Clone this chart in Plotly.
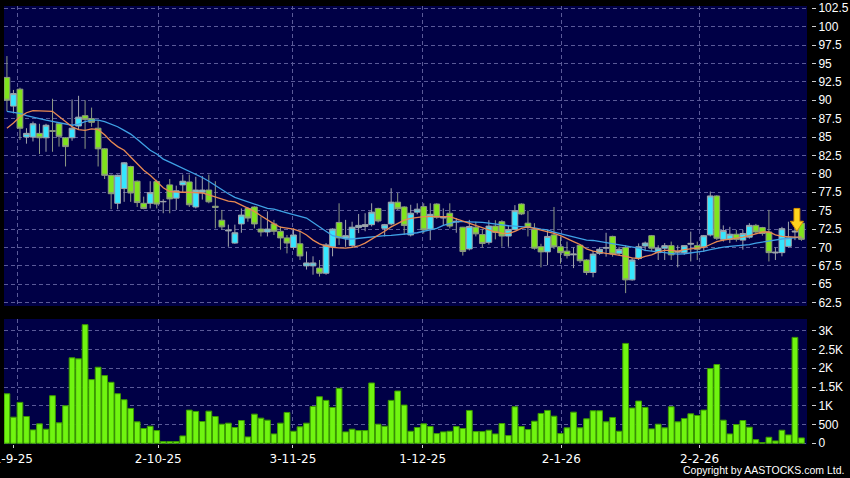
import plotly.graph_objects as go

# ---------------- data ----------------
date_labels = ["1-9-25", "2-10-25", "3-11-25", "1-12-25", "2-1-26", "2-2-26"]
date_label_index = [0.98, 23.24, 43.92, 63.83, 85.11, 106.36]
date_grid_index = [1.59, 23.24, 43.92, 63.83, 85.11, 106.36]

opens = [93.1, 89.2, 91.5, 85.0, 85.0, 85.5, 84.9, 85.85, 86.8, 84.9,
         84.9, 86.5, 87.9, 87.5, 86.2, 83.4, 79.8, 76.0, 78.0, 81.0,
         79.0, 76.0, 76.0, 78.95, 76.2, 78.5, 76.7, 78.5, 78.9, 75.5,
         77.5, 77.8, 75.6, 73.7, 72.25, 70.6, 73.2, 75.3, 75.5, 72.5,
         72.1, 73.2, 72.2, 71.3, 70.0, 70.5, 67.5, 67.5, 67.2, 66.5,
         70.1, 73.4, 71.25, 70.25, 72.7, 72.85, 73.1, 75.3, 72.6, 73.2,
         76.15, 75.5, 71.7, 74.8, 75.55, 72.5, 75.9, 74.0, 74.65, 73.45,
         72.75, 69.8, 72.75, 71.75, 70.7, 72.9, 73.5, 71.55, 72.45, 75.9,
         73.3, 72.45, 70.1, 69.4, 71.7, 70.1, 69.5, 69.0, 70.3, 68.3,
         66.6, 69.2, 69.9, 71.5, 69.2, 70.0, 65.6, 68.5, 70.2, 71.6,
         69.3, 69.9, 70.25, 69.35, 69.3, 70.45, 70.25, 70.1, 71.7, 77.0,
         71.1, 71.1, 71.8, 71.0, 71.4, 73.0, 72.7, 72.1, 69.25, 69.3,
         70.15, 72.1, 73.3]
highs = [96.0, 91.4, 91.7, 86.2, 87.1, 86.8, 86.8, 90.2, 86.9, 85.0,
         90.1, 90.6, 90.0, 89.0, 87.3, 83.5, 79.9, 79.9, 81.6, 81.1,
         79.1, 76.9, 79.0, 79.2, 76.55, 79.3, 78.4, 79.9, 79.9, 79.6,
         79.7, 79.9, 79.0, 75.1, 73.1, 73.1, 75.3, 75.5, 75.6, 74.2,
         74.9, 73.75, 72.85, 71.7, 72.6, 72.3, 69.45, 68.8, 68.3, 70.6,
         72.6, 76.0, 73.75, 73.5, 74.55, 74.65, 76.0, 75.4, 73.2, 78.05,
         77.4, 75.6, 75.8, 76.0, 76.0, 76.0, 76.0, 75.3, 76.0, 74.0,
         72.8, 73.75, 73.5, 72.5, 73.7, 73.7, 73.7, 73.05, 75.75, 76.0,
         75.0, 73.3, 70.5, 72.4, 75.5, 71.5, 70.8, 70.0, 70.4, 68.4,
         69.55, 70.0, 72.0, 71.6, 70.1, 70.3, 68.6, 70.55, 70.8, 71.7,
         70.3, 70.6, 70.8, 70.3, 70.3, 72.15, 70.8, 71.7, 77.6, 77.1,
         73.0, 72.8, 72.4, 72.4, 73.3, 73.2, 72.8, 75.1, 70.0, 72.8,
         73.5, 73.2, 73.5]
lows = [88.5, 88.2, 84.6, 84.1, 84.4, 82.7, 83.0, 83.0, 83.7, 81.0,
        84.5, 86.0, 83.4, 86.4, 81.0, 79.3, 75.2, 75.2, 76.2, 76.2,
        75.5, 75.2, 75.3, 75.3, 74.65, 74.65, 75.1, 77.4, 75.5, 75.3,
        76.5, 76.0, 72.6, 72.4, 70.1, 70.5, 72.0, 73.5, 72.6, 71.5,
        71.5, 71.7, 69.7, 69.2, 69.7, 68.3, 67.0, 66.3, 66.05, 66.3,
        68.8, 70.35, 70.1, 70.0, 71.95, 72.2, 72.85, 73.4, 71.5, 73.0,
        75.1, 71.7, 71.5, 74.5, 71.9, 71.0, 73.9, 73.0, 72.6, 72.0,
        68.9, 69.6, 71.5, 70.0, 70.4, 71.1, 70.1, 70.1, 72.3, 74.4,
        71.5, 69.7, 67.3, 67.6, 69.8, 67.8, 68.5, 67.2, 67.9, 66.25,
        65.95, 69.0, 68.75, 68.75, 68.9, 63.8, 65.5, 68.3, 69.5, 69.5,
        68.3, 68.3, 68.3, 67.3, 69.0, 68.1, 68.3, 69.4, 71.5, 71.0,
        70.8, 70.6, 70.8, 69.7, 71.2, 71.9, 71.6, 68.1, 68.3, 68.8,
        70.0, 71.0, 70.9]
closes = [90.0, 90.9, 86.2, 85.5, 86.8, 84.9, 86.6, 85.8, 85.1, 83.7,
          86.2, 87.7, 87.4, 87.0, 83.4, 79.8, 77.3, 79.8, 81.5, 77.4,
          76.1, 75.3, 77.45, 75.9, 76.25, 76.6, 77.7, 79.0, 75.8, 77.8,
          77.8, 76.2, 75.45, 72.8, 72.35, 72.0, 74.4, 74.0, 73.2, 72.1,
          72.5, 72.2, 71.3, 70.6, 71.7, 68.85, 67.9, 67.9, 66.5, 70.35,
          72.5, 71.3, 71.6, 72.75, 73.0, 73.1, 74.8, 73.6, 73.1, 76.15,
          75.25, 73.0, 74.65, 75.2, 72.4, 74.5, 74.1, 74.1, 72.9, 73.55,
          69.45, 72.85, 71.85, 70.55, 72.9, 72.05, 71.55, 72.45, 75.0, 74.55,
          72.75, 69.9, 69.4, 71.5, 70.1, 69.3, 68.9, 69.1, 68.2, 66.6,
          69.1, 69.75, 70.0, 69.1, 69.75, 65.6, 68.3, 70.1, 70.6, 69.9,
          69.9, 70.25, 69.0, 69.45, 70.25, 70.55, 69.75, 71.6, 77.0, 71.25,
          72.3, 71.8, 71.1, 71.9, 73.0, 72.1, 71.9, 69.3, 69.35, 72.55,
          71.3, 72.2, 71.1]
volume = [1320, 697, 1090, 714, 357, 518, 375, 1268, 545, 1000,
          2277, 2250, 3161, 1697, 2027, 1804, 1625, 1321, 1161, 929,
          571, 393, 455, 339, 45, 45, 45, 196, 884, 848,
          580, 857, 714, 509, 536, 420, 607, 170, 777, 670,
          616, 250, 536, 822, 321, 438, 536, 982, 1241, 1143,
          955, 1465, 304, 375, 339, 339, 1607, 509, 455, 1143,
          1393, 1018, 321, 420, 518, 446, 259, 304, 321, 446,
          393, 875, 312, 312, 348, 250, 527, 205, 973, 446,
          366, 589, 795, 875, 723, 259, 411, 830, 411, 652,
          866, 866, 571, 688, 321, 2661, 938, 1125, 955, 384,
          509, 411, 973, 571, 661, 786, 741, 884, 1991, 2099,
          616, 250, 500, 607, 429, 98, 18, 161, 63, 348,
          223, 2822, 143]
ma_short = [86.2, 86.9, 87.75, 88.3, 88.6, 88.6, 88.5, 88.5, 87.8, 87.1,
            86.4, 86.0, 85.9, 86.1, 86.0, 85.3, 84.4, 83.7, 83.2, 82.3,
            81.4, 80.5, 79.8, 78.9, 78.1, 77.6, 77.5, 77.5, 77.5, 77.4,
            77.4, 77.15, 76.9, 76.55, 76.3, 76.2, 75.8, 75.3, 74.9, 74.3,
            73.7, 73.2, 72.75, 72.6, 72.5, 72.2, 71.7, 71.0, 70.5, 70.2,
            70.0, 69.95, 69.9, 70.0, 70.2, 70.6, 71.1, 71.6, 72.2, 72.8,
            73.3, 73.7, 73.95, 74.1, 74.2, 74.2, 74.2, 74.3, 74.2, 73.9,
            73.6, 73.3, 73.0, 72.8, 72.4, 72.1, 71.95, 71.9, 72.2, 72.6,
            72.8, 72.6, 72.4, 72.2, 71.9, 71.6, 71.25, 70.8, 70.4, 69.8,
            69.5, 69.3, 69.2, 69.1, 69.0, 68.8, 68.6, 68.5, 68.8, 69.0,
            69.4, 69.6, 69.6, 69.5, 69.7, 69.8, 69.9, 70.0, 70.4, 70.8,
            71.0, 71.1, 71.25, 71.4, 71.6, 71.9, 72.1, 72.1, 71.7, 71.5,
            71.4, 71.4, 71.4]
ma_long = [88.5, 88.4, 88.2, 87.9, 87.75, 87.5, 87.3, 87.15, 87.0, 86.75,
           86.6, 86.75, 87.1, 87.3, 87.3, 87.1, 86.75, 86.4, 85.9, 85.4,
           84.7, 83.9, 83.2, 82.7, 82.0, 81.6, 81.2, 80.7, 80.3, 80.0,
           79.5, 79.0, 78.4, 77.8, 77.3, 76.8, 76.5, 76.3, 75.9, 75.6,
           75.3, 75.2, 74.9, 74.7, 74.45, 74.2, 74.0, 73.4, 72.8, 72.1,
           71.6, 71.4, 71.15, 71.15, 71.25, 71.4, 71.45, 71.5, 71.6, 71.65,
           71.7, 71.8, 71.9, 72.0, 72.2, 72.4, 72.6, 73.0, 73.3, 73.5,
           73.5, 73.5, 73.45, 73.4, 73.3, 73.15, 73.05, 72.95, 72.9, 72.85,
           72.8, 72.65, 72.5, 72.4, 72.1, 71.9, 71.7, 71.4, 71.2, 71.0,
           70.95, 70.8, 70.65, 70.5, 70.4, 70.25, 70.1, 69.9, 69.6, 69.5,
           69.4, 69.3, 69.2, 69.1, 69.15, 69.25, 69.35, 69.5, 69.7, 69.9,
           70.05, 70.15, 70.2, 70.3, 70.4, 70.6, 70.75, 70.9, 71.0, 71.15,
           71.25, 71.35, 71.4]
arrow_index = 121.3
arrow_tip_value = 72.2

price_ticks = [62.5 + 2.5 * k for k in range(17)]
vol_tick_vals = [0, 500, 1000, 1500, 2000, 2500, 3000]
vol_tick_text = ["0", "500", "1K", "1.5K", "2K", "2.5K", "3K"]

# ---------------- figure ----------------
W, H = 850, 478
idx = list(range(len(closes)))

BG = "#000046"
GRID = "#5a5a98"
DASH = "4px,3px"
FONT = "Liberation Sans, Arial, sans-serif"
XFONT = "DejaVu Sans, Liberation Sans, sans-serif"

fig = go.Figure()

fig.add_trace(go.Candlestick(
    x=idx, open=opens, high=highs, low=lows, close=closes,
    increasing=dict(fillcolor="#36e6ff", line=dict(color="#a0a4aa", width=1)),
    decreasing=dict(fillcolor="#80e41c", line=dict(color="#8e9a84", width=1)),
    whiskerwidth=0, xaxis="x", yaxis="y", showlegend=False, hoverinfo="skip"))

fig.add_trace(go.Scatter(x=idx, y=ma_long, mode="lines",
                         line=dict(color="#3fa2e6", width=1.3),
                         xaxis="x", yaxis="y", showlegend=False, hoverinfo="skip"))
fig.add_trace(go.Scatter(x=idx, y=ma_short, mode="lines",
                         line=dict(color="#e88a52", width=1.3),
                         xaxis="x", yaxis="y", showlegend=False, hoverinfo="skip"))

# down arrow marker, built from its tip position
hh, hs, head_h, tot_h = 1.0, 0.45, 1.36, 3.1
ax = [arrow_index - hs, arrow_index + hs, arrow_index + hs, arrow_index + hh,
      arrow_index, arrow_index - hh, arrow_index - hs, arrow_index - hs]
ay = [arrow_tip_value + tot_h, arrow_tip_value + tot_h, arrow_tip_value + head_h,
      arrow_tip_value + head_h, arrow_tip_value, arrow_tip_value + head_h,
      arrow_tip_value + head_h, arrow_tip_value + tot_h]
fig.add_trace(go.Scatter(x=ax, y=ay, mode="lines", fill="toself",
                         fillcolor="#ffd41e", line=dict(color="#d89000", width=1),
                         xaxis="x", yaxis="y", showlegend=False, hoverinfo="skip"))

fig.add_trace(go.Bar(x=idx, y=volume, marker=dict(color="#70f510",
                     line=dict(color="#3c9a00", width=1)),
                     xaxis="x2", yaxis="y2", showlegend=False, hoverinfo="skip"))

x_dom = [4 / W, 807 / W]
xr = [-0.45, 122.85]

fig.update_layout(
    width=W, height=H, autosize=False,
    margin=dict(l=0, r=0, t=0, b=0, pad=0, autoexpand=False),
    showlegend=False,
    paper_bgcolor="#000000", plot_bgcolor=BG,
    boxgap=0.12, boxgroupgap=0, bargap=0.12,
    font=dict(family=FONT, size=12, color="#ffffff"),
    xaxis=dict(range=xr, domain=x_dom, anchor="y", showticklabels=False, ticks="",
               automargin=False,
               tickmode="array", tickvals=date_grid_index,
               showgrid=True, gridcolor=GRID, griddash=DASH, gridwidth=1,
               zeroline=False, showline=False, rangeslider=dict(visible=False)),
    xaxis2=dict(range=xr, domain=x_dom, anchor="y2", automargin=False,
                tickmode="array", tickvals=date_label_index, ticktext=date_labels,
                ticks="outside", ticklen=3, tickcolor="#cfcfcf",
                ticklabeloverflow="allow", showgrid=False,
                minor=dict(tickmode="array", tickvals=date_grid_index, ticks="",
                           showgrid=True, gridcolor=GRID, griddash=DASH, gridwidth=1),
                zeroline=False, showline=False,
                tickfont=dict(family=XFONT, size=12, color="#ffffff")),
    yaxis=dict(domain=[1 - 306 / H, 1 - 6 / H], range=[62.05, 102.8],
               side="right", anchor="free", position=811 / W, automargin=False,
               tickmode="array", tickvals=price_ticks, ticks="outside", ticklen=4,
               tickcolor="#cfcfcf", showgrid=True, gridcolor=GRID, griddash=DASH,
               zeroline=False, showline=False,
               tickfont=dict(family=FONT, size=12, color="#ffffff")),
    yaxis2=dict(domain=[1 - 444.3 / H, 1 - 319 / H], range=[-27, 3312],
                side="right", anchor="free", position=811 / W, automargin=False,
                tickmode="array", tickvals=vol_tick_vals, ticktext=vol_tick_text,
                ticks="outside", ticklen=4, tickcolor="#cfcfcf",
                showgrid=True, gridcolor=GRID, griddash=DASH,
                zeroline=False, showline=False,
                tickfont=dict(family=FONT, size=12, color="#ffffff")),
    annotations=[dict(text="Copyright by AASTOCKS.com Ltd.", xref="paper", yref="paper",
                      x=846 / W, y=1 - 470 / H, xanchor="right", yanchor="middle",
                      showarrow=False, font=dict(family=FONT, size=10.5, color="#ffffff"))],
)

page_fix = (
    "var de=document.documentElement,b=document.body;"
    "de.style.margin='0';de.style.padding='0';de.style.overflow='hidden';de.style.background='#000';"
    "b.style.margin='0';b.style.padding='0';b.style.overflow='hidden';b.style.background='#000';"
    "var g=document.querySelector('.plotly-graph-div');"
    "if(g){g.style.position='fixed';g.style.left='0px';g.style.top='0px';}"
)

fig.write_html("out.html", config={"displayModeBar": False}, post_script=page_fix)
